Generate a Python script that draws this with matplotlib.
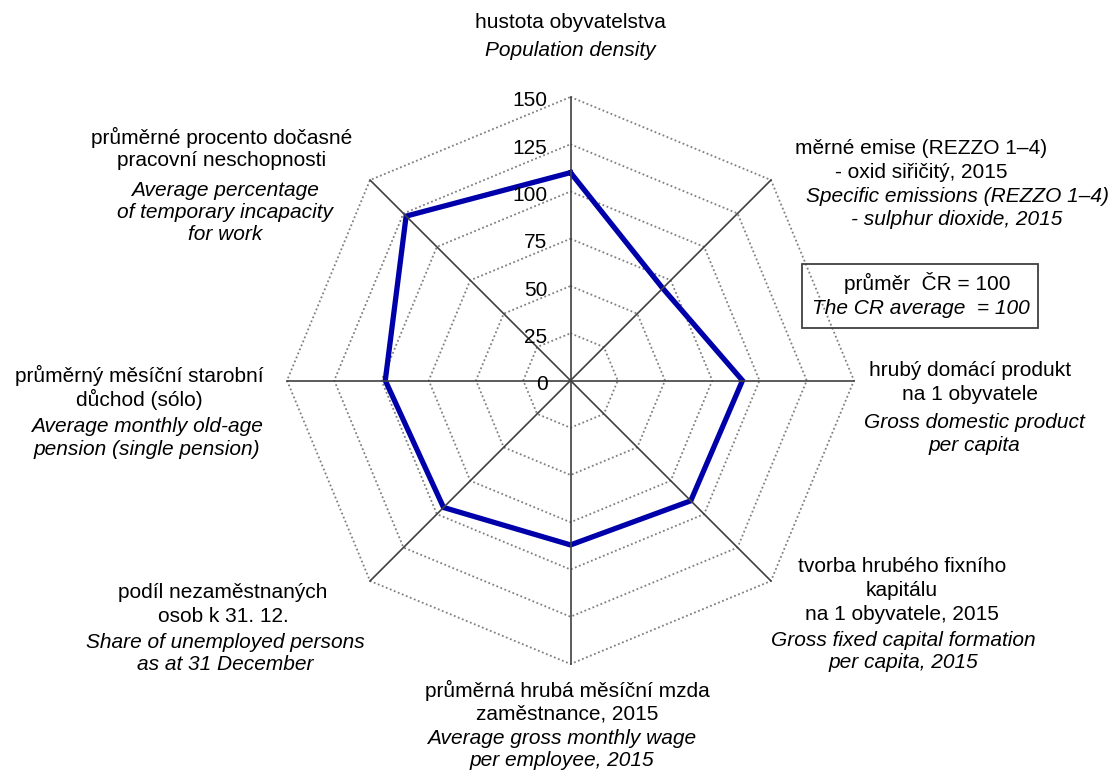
import numpy as np
import matplotlib
matplotlib.use("Agg")
import matplotlib.pyplot as plt
from matplotlib.transforms import Affine2D, offset_copy
from matplotlib.patches import Rectangle

plt.rcParams['font.family'] = ['Liberation Sans', 'DejaVu Sans']

# --- data (clockwise from the top) ---
labels_cz = [
    "hustota obyvatelstva",
    "měrné emise (REZZO 1–4)\n- oxid siřičitý, 2015",
    "hrubý domácí produkt\nna 1 obyvatele",
    "tvorba hrubého fixního\nkapitálu\nna 1 obyvatele, 2015",
    "průměrná hrubá měsíční mzda\nzaměstnance, 2015",
    "podíl nezaměstnaných\nosob k 31. 12.",
    "průměrný měsíční starobní\ndůchod (sólo)",
    "průměrné procento dočasné\npracovní neschopnosti",
]
labels_en = [
    "Population density",
    "Specific emissions (REZZO 1–4)\n- sulphur dioxide, 2015",
    "Gross domestic product\nper capita",
    "Gross fixed capital formation\nper capita, 2015",
    "Average gross monthly wage\nper employee, 2015",
    "Share of unemployed persons\nas at 31 December",
    "Average monthly old-age\npension (single pension)",
    "Average percentage\nof temporary incapacity\nfor work",
]
values = [110, 69, 91, 90, 87, 95, 98, 123]
ticks = [0, 25, 50, 75, 100, 125, 150]
note_lines = ["průměr  ČR = 100", "The CR average  = 100"]

# --- layout (pixels, origin top-left) ---
W, H = 1115, 773
cx, cy, R = 570.5, 380.5, 283.5
cz_x = [570, 921, 970, 902, 567, 223, 139, 222]
cz_y = [22, 148, 370, 567, 690, 592, 375, 137]
en_x = [570, 957, 974, 903, 562, 225, 147, 225]
en_y = [50, 197, 423, 640, 738, 642, 427, 190]
cz_step, en_step = 24, 22.5
fs = 15

fig = plt.figure(figsize=(W / 100, H / 100), dpi=100)
px = Affine2D().scale(1 / W, -1 / H).translate(0, 1) + fig.transFigure

ax = fig.add_axes([(cx - R) / W, (H - cy - R) / H, 2 * R / W, 2 * R / H],
                  projection='polar')
ax.set_theta_zero_location('N')
ax.set_theta_direction(-1)
ax.set_ylim(0, 150)
ax.axis('off')

n = len(values)
angles = np.arange(n) * 2 * np.pi / n
ring = np.append(angles, angles[0])

# octagon grid
for t in ticks[1:]:
    ax.plot(ring, [t] * (n + 1), color='#808080', lw=1.3,
            ls=(0, (1, 1.4)), zorder=1, clip_on=False)
# data polygon
ax.plot(ring, values + values[:1], color='#0000AA', lw=3.8, zorder=2,
        solid_joinstyle='miter', clip_on=False)
# spokes
for a in angles:
    ax.plot([a, a], [0, ticks[-1]], color='#404040', lw=1.2, zorder=3,
            clip_on=False)

# radial tick labels
tr = offset_copy(ax.transData, fig=fig, x=-23, y=-9.5, units='dots')
for t in ticks:
    ax.text(0, t, str(t), transform=tr, ha='right', va='baseline',
            fontsize=fs, zorder=4)

# category labels
for i in range(n):
    for k, line in enumerate(labels_cz[i].split("\n")):
        fig.text(cz_x[i], cz_y[i] + k * cz_step, line, transform=px,
                 ha='center', va='center', fontsize=fs)
    for k, line in enumerate(labels_en[i].split("\n")):
        fig.text(en_x[i], en_y[i] + k * en_step, line, transform=px,
                 ha='center', va='center', fontsize=fs, style='italic')

# note box
fig.add_artist(Rectangle((802, 264), 236, 64, transform=px, fill=False,
                         edgecolor='#404040', lw=1.3))
fig.text(927, 283, note_lines[0], transform=px, ha='center', va='center',
         fontsize=fs)
fig.text(921, 309, note_lines[1], transform=px, ha='center', va='center',
         fontsize=fs, style='italic')

fig.savefig("out.png", dpi=100)
